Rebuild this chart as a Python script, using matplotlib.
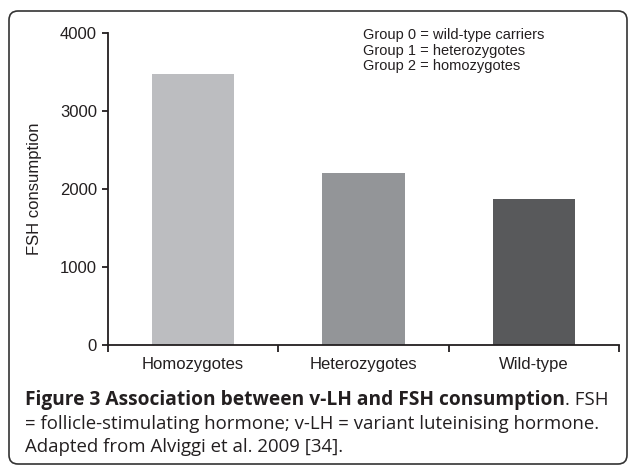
import matplotlib
matplotlib.use("Agg")
import matplotlib.pyplot as plt
from matplotlib.patches import FancyBboxPatch

groups = ["Homozygotes", "Heterozygotes", "Wild-type"]
fsh = [3480, 2210, 1870]
bar_colors = ["#bcbdc0", "#939598", "#58595b"]
yticks = [0, 1000, 2000, 3000, 4000]
legend_lines = ["Group 0 = wild-type carriers",
                "Group 1 = heterozygotes",
                "Group 2 = homozygotes"]
cap_bold = "Figure 3 Association between v-LH and FSH consumption"
cap_rest = ". FSH"
cap_lines = ["= follicle-stimulating hormone; v-LH = variant luteinising hormone.",
             "Adapted from Alviggi et al. 2009 [34]."]

W, H = 629, 468
fig = plt.figure(figsize=(W / 100, H / 100), dpi=100)

ink = "#231f20"
left, right, top, bottom = 108, 619, 33, 345
ax = fig.add_axes([left / W, 1 - bottom / H, (right - left) / W, (bottom - top) / H])

x = range(len(groups))
ax.bar(x, fsh, width=0.485, color=bar_colors)
ax.set_xlim(-0.5, len(groups) - 0.5)
ax.set_ylim(0, 4000)

for s in ["top", "right"]:
    ax.spines[s].set_visible(False)
for s in ["left", "bottom"]:
    ax.spines[s].set_linewidth(1.3)
    ax.spines[s].set_color(ink)

ax.set_yticks(yticks)
ax.set_yticklabels([str(v) for v in yticks], fontsize=12, family="Liberation Sans", color=ink)
ax.tick_params(axis="y", length=4, width=1.3, color=ink, pad=4)

ax.set_xticks([i - 0.5 for i in range(len(groups) + 1)])
ax.set_xticklabels([])
ax.set_xticks(list(x), minor=True)
ax.set_xticklabels(groups, minor=True, fontsize=12, family="Liberation Sans", color=ink)
ax.tick_params(axis="x", which="major", length=5, width=1.3, color=ink)
ax.tick_params(axis="x", which="minor", length=0, pad=9)

ax.set_ylabel("FSH consumption", fontsize=12, family="Liberation Sans", color=ink)
ax.yaxis.set_label_coords(-0.129, 0.5)

for i, line in enumerate(legend_lines):
    fig.text(363 / W, 1 - (39 + 15.5 * i) / H, line, fontsize=10.5,
             family="Liberation Sans", color=ink, va="baseline")

# caption
cap_font = "Open Sans"
t = fig.text(25 / W, 1 - 405 / H, cap_bold, fontsize=13.8, family=cap_font,
             weight="bold", color=ink, va="baseline")
fig.canvas.draw()
bb = t.get_window_extent(renderer=fig.canvas.get_renderer())
fig.text(bb.x1 / W, 1 - 405 / H, cap_rest, fontsize=13.4, family=cap_font,
         color=ink, va="baseline")
for i, line in enumerate(cap_lines):
    fig.text(25 / W, 1 - (429 + 23.5 * i) / H, line, fontsize=13.4, family=cap_font,
             color=ink, va="baseline")

box = FancyBboxPatch((0.09, 0.04), 6.18, 4.53, boxstyle="round,pad=0,rounding_size=0.09",
                     transform=fig.dpi_scale_trans, facecolor="none",
                     edgecolor="#333333", linewidth=1.2)
fig.patches.append(box)

fig.savefig("out.png", dpi=100)
